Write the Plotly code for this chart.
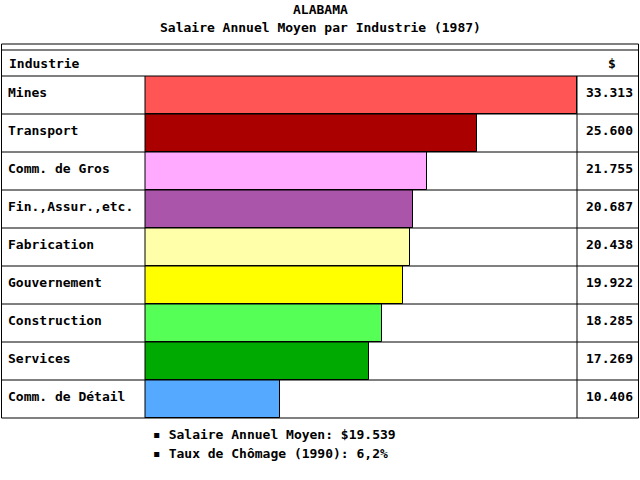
import plotly.graph_objects as go

industries = ["Mines", "Transport", "Comm. de Gros", "Fin.,Assur.,etc.", "Fabrication",
              "Gouvernement", "Construction", "Services", "Comm. de Détail"]
salaries = [33313, 25600, 21755, 20687, 20438, 19922, 18285, 17269, 10406]
value_labels = ["33.313", "25.600", "21.755", "20.687", "20.438", "19.922", "18.285", "17.269", "10.406"]
colors = ["#FF5555", "#AA0000", "#FFAAFF", "#AA55AA", "#FFFFAA",
          "#FFFF00", "#55FF55", "#00AA00", "#55AAFF"]
title = "ALABAMA"
subtitle = "Salaire Annuel Moyen par Industrie (1987)"
notes = ["Salaire Annuel Moyen: $19.539", "Taux de Chômage (1990): 6,2%"]

W, H = 640, 480
FONT = "DejaVu Sans Mono"

def px(x):
    return x / W

def py(y):
    return 1 - y / H

x_left, x_bar, x_val, x_right = 1.5, 145, 577, 638.5
y_top, y_head, y_rows, row_h = 44, 50, 76, 38
n = len(industries)
y_bottom = y_rows + n * row_h

fig = go.Figure()
fig.add_trace(go.Bar(
    x=salaries, y=industries, orientation="h", width=1.0,
    marker=dict(color=colors, line=dict(color="black", width=1)),
    hoverinfo="x+y", showlegend=False,
))

fig.update_layout(
    width=W, height=H, margin=dict(l=0, r=0, t=0, b=0),
    paper_bgcolor="white", plot_bgcolor="white",
    font=dict(family=FONT, size=13, color="black", weight="bold"),
    xaxis=dict(domain=[px(x_bar), px(x_val)], range=[0, max(salaries)],
               showgrid=False, zeroline=False, showticklabels=False, ticks=""),
    yaxis=dict(domain=[py(y_bottom), py(y_rows)], range=[n - 0.5, -0.5],
               showgrid=False, zeroline=False, showticklabels=False, ticks="",
               categoryorder="array", categoryarray=industries),
    bargap=0,
)

shapes = []
line = dict(color="black", width=1)
shapes.append(dict(type="rect", xref="paper", yref="paper",
                   x0=px(x_left), x1=px(x_right), y0=py(y_bottom), y1=py(y_top), line=line))
for yy in [y_head, y_rows]:
    shapes.append(dict(type="line", xref="paper", yref="paper",
                       x0=px(x_left), x1=px(x_right), y0=py(yy), y1=py(yy), line=line))
for i in range(1, n):
    yy = y_rows + i * row_h
    shapes.append(dict(type="line", xref="paper", yref="paper",
                       x0=px(x_left), x1=px(x_right), y0=py(yy), y1=py(yy), line=line))
for xx in [x_bar, x_val]:
    shapes.append(dict(type="line", xref="paper", yref="paper",
                       x0=px(xx), x1=px(xx), y0=py(y_bottom), y1=py(y_rows), line=line))
fig.update_layout(shapes=shapes)

ann = []
ann.append(dict(text=title, x=0.5, y=py(9), xref="paper", yref="paper",
                showarrow=False, xanchor="center", yanchor="middle"))
ann.append(dict(text=subtitle, x=0.5, y=py(27), xref="paper", yref="paper",
                showarrow=False, xanchor="center", yanchor="middle"))
ann.append(dict(text="Industrie", x=px(7), y=py(64), xref="paper", yref="paper",
                showarrow=False, xanchor="left", yanchor="middle"))
ann.append(dict(text="$", x=px(612), y=py(64), xref="paper", yref="paper",
                showarrow=False, xanchor="center", yanchor="middle"))
for i, (name, val) in enumerate(zip(industries, value_labels)):
    ann.append(dict(text=name, x=px(6), y=name, xref="paper", yref="y", yshift=3,
                    showarrow=False, xanchor="left", yanchor="middle"))
    ann.append(dict(text=val, x=px(635), y=name, xref="paper", yref="y", yshift=3,
                    showarrow=False, xanchor="right", yanchor="middle"))
for j, note in enumerate(notes):
    yy = 434 + j * 19
    ann.append(dict(text="\u25AA " + note, x=px(151), y=py(yy), xref="paper", yref="paper",
                    showarrow=False, xanchor="left", yanchor="middle"))
fig.update_layout(annotations=ann)

fig.write_html("out.html", config={"displayModeBar": False},
               post_script="document.body.style.margin='0';")
